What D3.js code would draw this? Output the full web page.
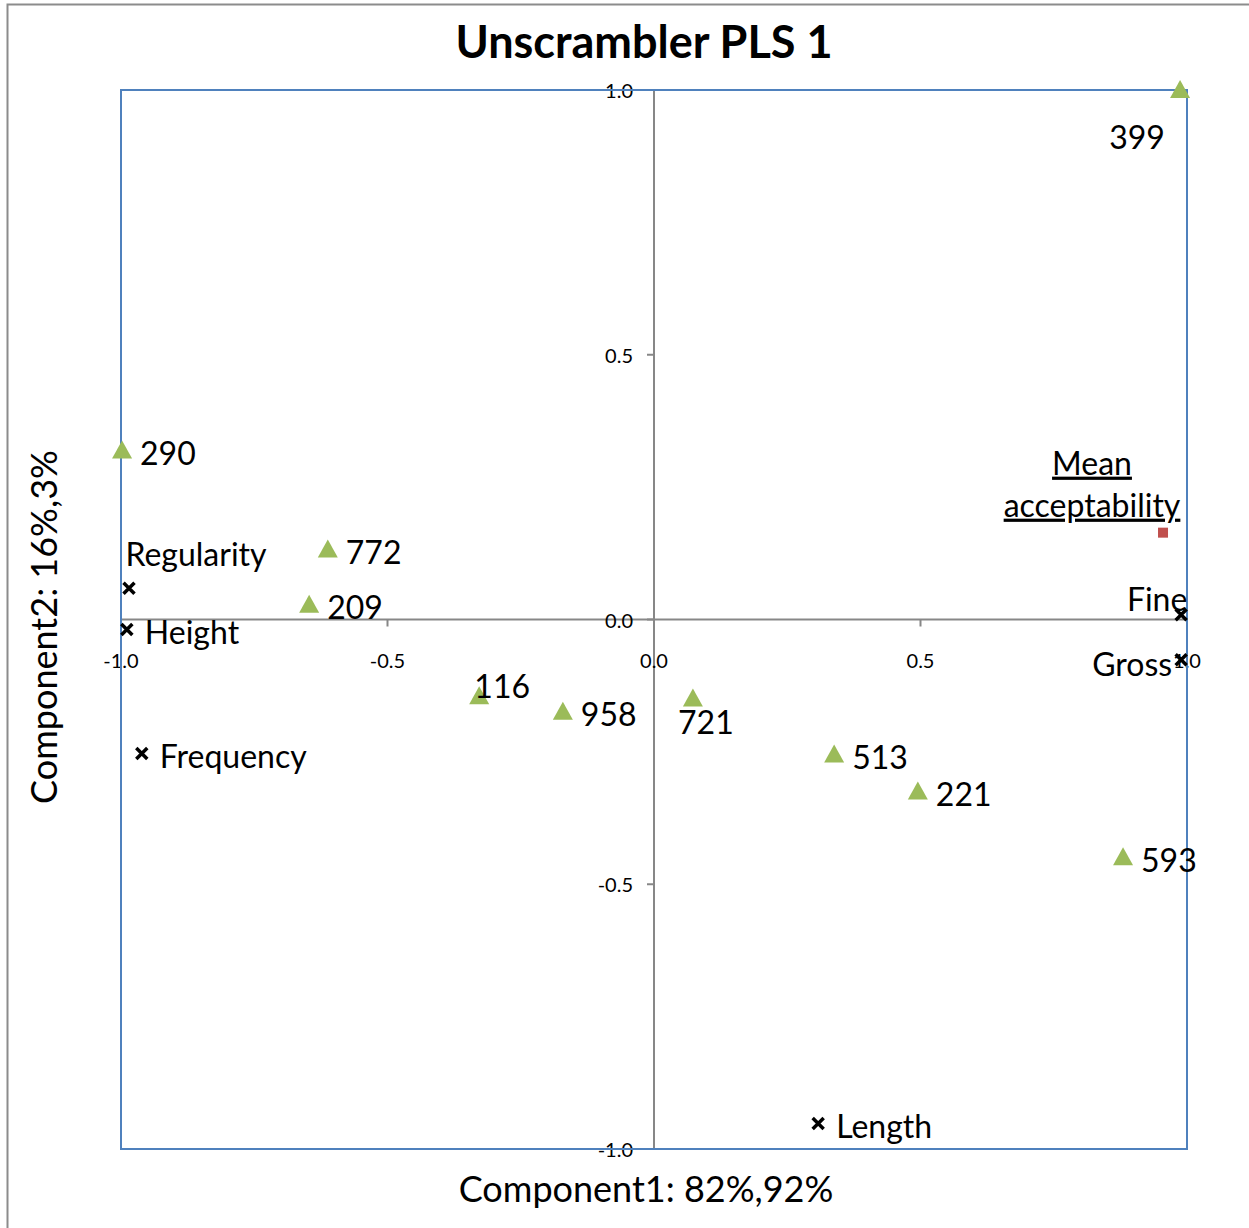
<!DOCTYPE html>
<html>
<head>
<meta charset="utf-8">
<script src="https://cdn.jsdelivr.net/npm/d3@7"></script>
<style>
  body { margin: 0; background: #fff; }
  text { font-family: Lato, "Open Sans", sans-serif; fill: #000; }
</style>
</head>
<body>
<svg id="chart" width="1249" height="1228"></svg>
<script>
// samples (scores) – component 1 / component 2
const sampleNames = ['399', '290', '772', '209', '116', '958', '721', '513', '221', '593']
const sampleX = [0.987, -0.998, -0.612, -0.647, -0.328, -0.171, 0.073, 0.338, 0.495, 0.880]
const sampleY = [1.000, 0.319, 0.132, 0.028, -0.145, -0.174, -0.149, -0.255, -0.325, -0.449]

// X variables (loadings)
const varNames = ['Regularity', 'Height', 'Frequency', 'Fine', 'Gross', 'Length']
const varX = [-0.985, -0.989, -0.961, 0.989, 0.989, 0.308]
const varY = [0.059, -0.019, -0.253, 0.009, -0.076, -0.952]

// Y variable
const respNames = ['Mean acceptability']
const respX = [0.955]
const respY = [0.164]

const ticks = [-1.0, -0.5, 0.0, 0.5, 1.0]

// label placement, pixels relative to the marker
const labelPos = {
  '399': [-43, 46, 'middle'],
  '116': [23, -11, 'middle'],
  '721': [13, 23, 'middle'],
  'Regularity': [67, -35, 'middle'],
  'Fine': [-24, -16, 'middle'],
  'Gross': [-9, 4, 'end']
}

const svg = d3.select('#chart')
const plotLeft = 121
const plotRight = 1187
const plotTop = 90
const plotBottom = 1149

const x = d3.scaleLinear().domain([-1, 1]).range([plotLeft, plotRight])
const y = d3.scaleLinear().domain([-1, 1]).range([plotBottom, plotTop])

// outer chart frame
svg.append('rect')
  .attr('x', 7.5).attr('y', 4.5).attr('width', 1260).attr('height', 1240)
  .attr('fill', 'none').attr('stroke', '#8c8c8c').attr('stroke-width', 2)

svg.append('text')
  .attr('x', 644).attr('y', 58)
  .attr('text-anchor', 'middle')
  .style('font-size', '45px').style('font-weight', 'bold')
  .text('Unscrambler PLS 1')

// axes through zero
const axisColor = '#878787'
svg.append('line')
  .attr('x1', x(-1)).attr('x2', x(1)).attr('y1', y(0)).attr('y2', y(0))
  .attr('stroke', axisColor).attr('stroke-width', 2)
svg.append('line')
  .attr('x1', x(0)).attr('x2', x(0)).attr('y1', y(-1)).attr('y2', y(1))
  .attr('stroke', axisColor).attr('stroke-width', 2)

svg.append('g').selectAll('line').data(ticks).enter().append('line')
  .attr('x1', d => x(d)).attr('x2', d => x(d))
  .attr('y1', y(0)).attr('y2', y(0) + 7)
  .attr('stroke', axisColor).attr('stroke-width', 2)
svg.append('g').selectAll('line').data(ticks).enter().append('line')
  .attr('x1', x(0) - 7).attr('x2', x(0))
  .attr('y1', d => y(d)).attr('y2', d => y(d))
  .attr('stroke', axisColor).attr('stroke-width', 2)

const fmt = d3.format('.1f')
svg.append('g').selectAll('text').data(ticks).enter().append('text')
  .attr('x', d => x(d)).attr('y', y(0) + 40)
  .attr('text-anchor', 'middle').attr('dominant-baseline', 'central')
  .style('font-size', '20px')
  .text(d => fmt(d).replace('−', '-'))
svg.append('g').selectAll('text').data(ticks).enter().append('text')
  .attr('x', x(0) - 21).attr('y', d => y(d))
  .attr('text-anchor', 'end').attr('dominant-baseline', 'central')
  .style('font-size', '20px')
  .text(d => fmt(d).replace('−', '-'))

// plot area border
svg.append('rect')
  .attr('x', plotLeft).attr('y', plotTop)
  .attr('width', plotRight - plotLeft).attr('height', plotBottom - plotTop)
  .attr('fill', 'none').attr('stroke', '#4f81bd').attr('stroke-width', 2)

// axis titles
svg.append('text')
  .attr('x', 646).attr('y', 1202)
  .attr('text-anchor', 'middle')
  .style('font-size', '36px')
  .text('Component1: 82%,92%')
svg.append('text')
  .attr('transform', 'translate(57, 627) rotate(-90)')
  .attr('text-anchor', 'middle')
  .style('font-size', '36px')
  .text('Component2: 16%,3%')

const samples = sampleNames.map((n, i) => ({name: n, x: sampleX[i], y: sampleY[i]}))
const vars = varNames.map((n, i) => ({name: n, x: varX[i], y: varY[i]}))
const resp = respNames.map((n, i) => ({name: n, x: respX[i], y: respY[i]}))

// markers
svg.append('g').selectAll('path').data(samples).enter().append('path')
  .attr('d', 'M0,-10 L10,8 L-10,8 Z')
  .attr('transform', d => `translate(${x(d.x)},${y(d.y)})`)
  .attr('fill', '#9bbb59')

svg.append('g').selectAll('path').data(vars).enter().append('path')
  .attr('d', 'M-5.5,-5.5 L5.5,5.5 M5.5,-5.5 L-5.5,5.5')
  .attr('transform', d => `translate(${x(d.x)},${y(d.y)})`)
  .attr('stroke', '#000').attr('stroke-width', 3.5)

svg.append('g').selectAll('rect').data(resp).enter().append('rect')
  .attr('x', d => x(d.x) - 5).attr('y', d => y(d.y) - 5)
  .attr('width', 10).attr('height', 10)
  .attr('fill', '#c0504d')

// point labels
const pointLabel = d => labelPos[d.name] || [18, 2, 'start']
svg.append('g').selectAll('text').data(samples.concat(vars)).enter().append('text')
  .attr('x', d => x(d.x) + pointLabel(d)[0])
  .attr('y', d => y(d.y) + pointLabel(d)[1])
  .attr('text-anchor', d => pointLabel(d)[2])
  .attr('dominant-baseline', 'central')
  .style('font-size', '32px')
  .text(d => d.name)

const respLabel = svg.append('g').selectAll('text').data(resp).enter().append('text')
  .attr('text-anchor', 'middle')
  .style('font-size', '32px')
  .style('text-decoration', 'underline')
respLabel.append('tspan')
  .attr('x', d => x(d.x) - 71).attr('y', d => y(d.y) - 58)
  .text(d => d.name.split(' ')[0])
respLabel.append('tspan')
  .attr('x', d => x(d.x) - 71).attr('y', d => y(d.y) - 16)
  .text(d => d.name.split(' ')[1])
</script>
</body>
</html>
